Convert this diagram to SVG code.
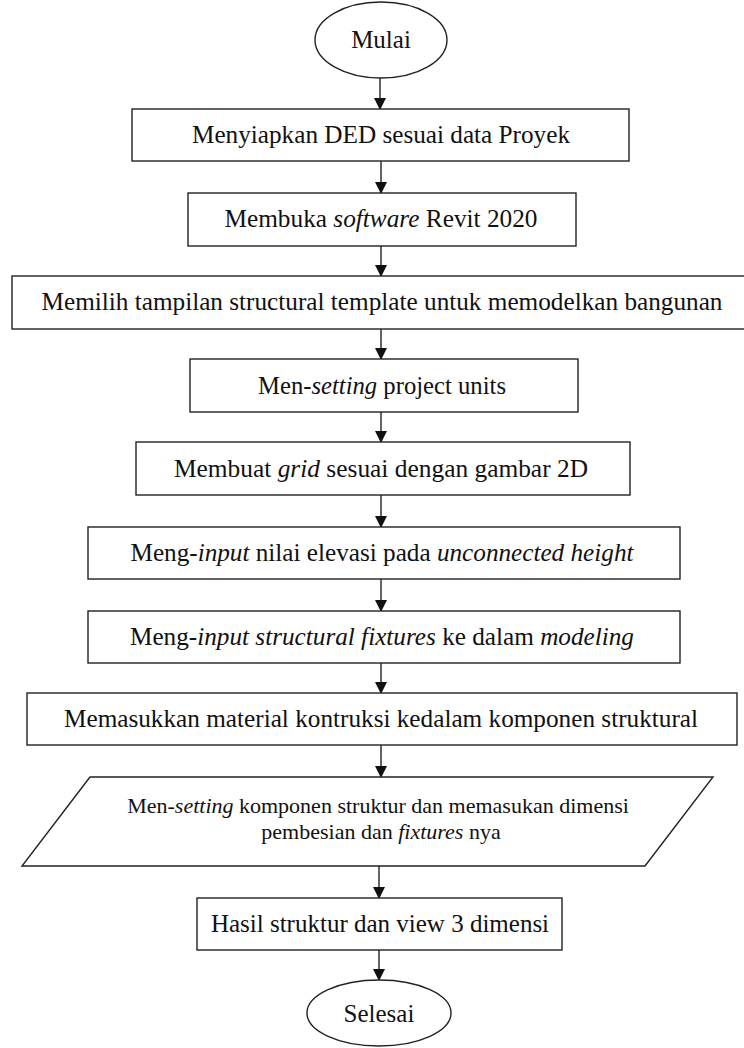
<svg xmlns="http://www.w3.org/2000/svg" width="744" height="1048" viewBox="0 0 744 1048">
<style>
.s{fill:#fff;stroke:#222;stroke-width:1.4}
.t{font-family:"Liberation Serif","Times New Roman",serif;font-size:25px;fill:#111;text-anchor:middle}
.p{font-size:22px}
.c{stroke:#111;stroke-width:1.3;fill:none;marker-end:url(#ah)}
</style>
<defs>
<marker id="ah" markerUnits="userSpaceOnUse" markerWidth="12" markerHeight="14" refX="11" refY="6" orient="auto">
<path d="M0,0 L12,6 L0,12 Z" fill="#111"/>
</marker>
</defs>
<g id="connectors">
<line class="c" x1="380" y1="78" x2="380" y2="109"/>
<line class="c" x1="381" y1="161" x2="381" y2="193"/>
<line class="c" x1="381" y1="246" x2="381" y2="276"/>
<line class="c" x1="381" y1="329" x2="381" y2="359"/>
<line class="c" x1="381" y1="412" x2="381" y2="442"/>
<line class="c" x1="381" y1="495" x2="381" y2="527"/>
<line class="c" x1="381" y1="579" x2="381" y2="611"/>
<line class="c" x1="381" y1="663" x2="381" y2="693"/>
<line class="c" x1="381" y1="745" x2="381" y2="777"/>
<line class="c" x1="379" y1="866" x2="379" y2="898"/>
<line class="c" x1="379" y1="950" x2="379" y2="980"/>
</g>
<g id="mulai">
<ellipse class="s" cx="381" cy="40" rx="66" ry="38"/>
<text class="t" x="381" y="48">Mulai</text>
</g>
<g id="n1">
<rect class="s" x="132" y="109" width="497" height="52"/>
<text class="t" x="381" y="143" textLength="378" lengthAdjust="spacingAndGlyphs">Menyiapkan DED sesuai data Proyek</text>
</g>
<g id="n2">
<rect class="s" x="188" y="193" width="388" height="53"/>
<text class="t" x="381" y="227" textLength="313" lengthAdjust="spacingAndGlyphs">Membuka <tspan font-style="italic">software</tspan> Revit 2020</text>
</g>
<g id="n3">
<rect class="s" x="12" y="276" width="740" height="53"/>
<text class="t" x="382" y="310" textLength="681" lengthAdjust="spacingAndGlyphs">Memilih tampilan structural template untuk memodelkan bangunan</text>
</g>
<g id="n4">
<rect class="s" x="190" y="359" width="388" height="53"/>
<text class="t" x="382" y="394" textLength="248" lengthAdjust="spacingAndGlyphs">Men-<tspan font-style="italic">setting</tspan> project units</text>
</g>
<g id="n5">
<rect class="s" x="136" y="442" width="494" height="53"/>
<text class="t" x="381" y="477" textLength="414" lengthAdjust="spacingAndGlyphs">Membuat <tspan font-style="italic">grid</tspan> sesuai dengan gambar 2D</text>
</g>
<g id="n6">
<rect class="s" x="88" y="527" width="592" height="52"/>
<text class="t" x="382" y="561" textLength="503" lengthAdjust="spacingAndGlyphs">Meng-<tspan font-style="italic">input</tspan> nilai elevasi pada <tspan font-style="italic">unconnected height</tspan></text>
</g>
<g id="n7">
<rect class="s" x="88" y="611" width="592" height="52"/>
<text class="t" x="382" y="645" textLength="504" lengthAdjust="spacingAndGlyphs">Meng-<tspan font-style="italic">input structural fixtures</tspan> ke dalam <tspan font-style="italic">modeling</tspan></text>
</g>
<g id="n8">
<rect class="s" x="27" y="693" width="710" height="52"/>
<text class="t" x="381" y="727" textLength="634" lengthAdjust="spacingAndGlyphs">Memasukkan material kontruksi kedalam komponen struktural</text>
</g>
<g id="n9">
<polygon class="s" points="90,777 713,777 645,866 22,866"/>
<text class="t p" x="378" y="813">Men-<tspan font-style="italic">setting</tspan> komponen struktur dan memasukan dimensi</text>
<text class="t p" x="381" y="839">pembesian dan <tspan font-style="italic">fixtures</tspan> nya</text>
</g>
<g id="n10">
<rect class="s" x="197" y="898" width="365" height="52"/>
<text class="t" x="380" y="932">Hasil struktur dan view 3 dimensi</text>
</g>
<g id="selesai">
<ellipse class="s" cx="379" cy="1013" rx="72" ry="33"/>
<text class="t" x="379" y="1022">Selesai</text>
</g>
</svg>
